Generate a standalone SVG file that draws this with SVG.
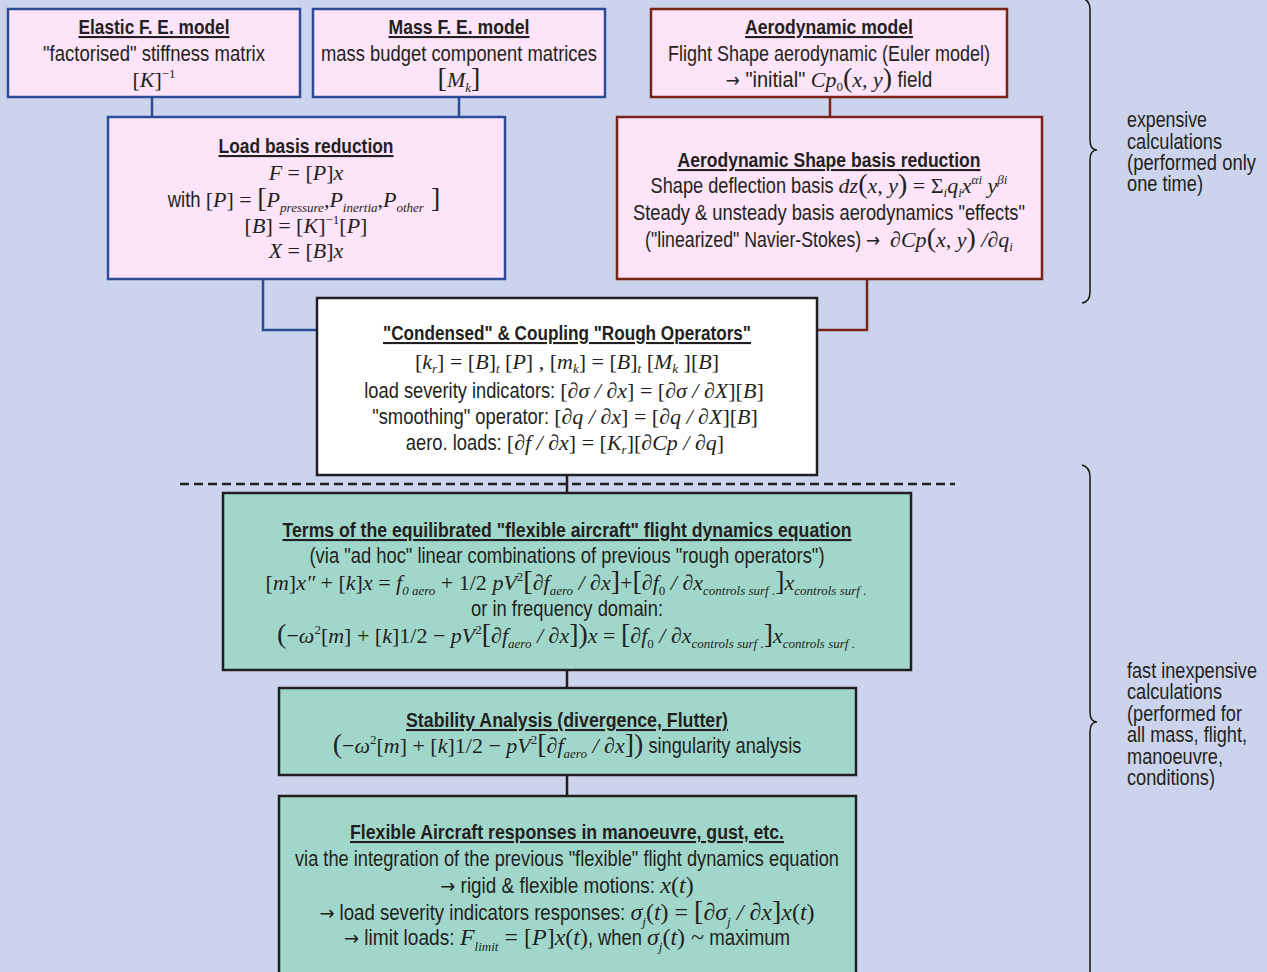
<svg xmlns="http://www.w3.org/2000/svg" width="1267" height="972" viewBox="0 0 1267 972">
<style>
.bg{fill:#cbd4ec}
.pb{fill:#fde4f8;stroke:#2c4b99;stroke-width:2.5}
.pr{fill:#fde4f8;stroke:#7a2317;stroke-width:2.5}
.wb{fill:#ffffff;stroke:#231f20;stroke-width:2.5}
.tb{fill:#a1d7ca;stroke:#231f20;stroke-width:2.5}
text{font-family:"Liberation Sans Narrow","Arial Narrow","Liberation Sans",sans-serif;font-size:22px;fill:#231f20;text-anchor:middle}
.t{font-weight:bold;font-size:21px;text-decoration:underline}
.m{font-family:"Liberation Serif","Times New Roman",serif;font-size:22px;font-style:normal}
.mi{font-family:"Liberation Serif","Times New Roman",serif;font-size:22px;font-style:italic}
.lg{font-size:24px}
.sb{font-size:13px}
.br{font-size:28px}
.ar{font-family:"DejaVu Sans",sans-serif;font-size:20px}
.side{text-anchor:start}
.cb{fill:none;stroke:#2c4b99;stroke-width:2.5}
.cr{fill:none;stroke:#7a2317;stroke-width:2.5}
.ck{fill:none;stroke:#231f20;stroke-width:2.5}
.dash{stroke-dasharray:9 5}
.brace{fill:none;stroke:#231f20;stroke-width:1.6}
</style>
<rect class="bg" x="0" y="0" width="1267" height="972"/>

<g id="connectors">
<path class="cb" d="M152,97V117"/>
<path class="cb" d="M459,97V117"/>
<path class="cr" d="M830,97V117"/>
<path class="cb" d="M263,279V330H317"/>
<path class="cr" d="M867,279V330H817"/>
<path class="ck" d="M567,475V493"/>
<path class="ck" d="M567,670V688"/>
<path class="ck" d="M567,775V796"/>
<path class="ck dash" d="M180,484H955"/>
</g>

<g id="elastic">
<rect class="pb" x="8" y="9" width="292" height="88"/>
<text class="t" x="154" y="34" textLength="151" lengthAdjust="spacingAndGlyphs">Elastic F. E. model</text>
<text x="154" y="61" textLength="222" lengthAdjust="spacingAndGlyphs">"factorised" stiffness matrix</text>
<text x="154" y="87"><tspan class="m">[</tspan><tspan class="mi">K</tspan><tspan class="m">]</tspan><tspan class="m sb" dy="-9">−1</tspan></text>
</g>

<g id="mass">
<rect class="pb" x="313" y="9" width="292" height="88"/>
<text class="t" x="459" y="34" textLength="141" lengthAdjust="spacingAndGlyphs">Mass F. E. model</text>
<text x="459" y="61" textLength="276" lengthAdjust="spacingAndGlyphs">mass budget component matrices</text>
<text x="459" y="87"><tspan class="m br">[</tspan><tspan class="mi">M</tspan><tspan class="mi sb" dy="5">k</tspan><tspan class="m br" dy="-5">]</tspan></text>
</g>

<g id="aero-model">
<rect class="pr" x="651" y="9" width="356" height="88"/>
<text class="t" x="829" y="34" textLength="168" lengthAdjust="spacingAndGlyphs">Aerodynamic model</text>
<text x="829" y="61" textLength="322" lengthAdjust="spacingAndGlyphs">Flight Shape aerodynamic (Euler model)</text>
<text x="829" y="87"><tspan class="ar" textLength="14" lengthAdjust="spacingAndGlyphs">→</tspan><tspan textLength="71" lengthAdjust="spacingAndGlyphs"> "initial" </tspan><tspan class="mi">Cp</tspan><tspan class="m sb" dy="4">0</tspan><tspan class="m br" dy="-4">(</tspan><tspan class="mi">x, y</tspan><tspan class="m br">)</tspan><tspan textLength="40" lengthAdjust="spacingAndGlyphs"> field</tspan></text>
</g>

<g id="load-basis">
<rect class="pb" x="108" y="117" width="397" height="162"/>
<text class="t" x="306" y="153" textLength="175" lengthAdjust="spacingAndGlyphs">Load basis reduction</text>
<text x="306" y="180"><tspan class="mi">F</tspan><tspan class="m"> = [</tspan><tspan class="mi">P</tspan><tspan class="m">]</tspan><tspan class="mi">x</tspan></text>
<text x="304" y="207"><tspan textLength="38" lengthAdjust="spacingAndGlyphs">with </tspan><tspan class="m">[</tspan><tspan class="mi">P</tspan><tspan class="m">] = </tspan><tspan class="m br">[</tspan><tspan class="mi">P</tspan><tspan class="mi sb" dy="5">pressure</tspan><tspan class="m" dy="-5">,</tspan><tspan class="mi">P</tspan><tspan class="mi sb" dy="5">inertia</tspan><tspan class="m" dy="-5">,</tspan><tspan class="mi">P</tspan><tspan class="mi sb" dy="5">other</tspan><tspan class="m br" dy="-5"> ]</tspan></text>
<text x="306" y="233"><tspan class="m">[</tspan><tspan class="mi">B</tspan><tspan class="m">] = [</tspan><tspan class="mi">K</tspan><tspan class="m">]</tspan><tspan class="m sb" dy="-9">−1</tspan><tspan class="m" dy="9">[</tspan><tspan class="mi">P</tspan><tspan class="m">]</tspan></text>
<text x="306" y="258"><tspan class="mi">X</tspan><tspan class="m"> = [</tspan><tspan class="mi">B</tspan><tspan class="m">]</tspan><tspan class="mi">x</tspan></text>
</g>

<g id="aero-shape">
<rect class="pr" x="617" y="117" width="425" height="162"/>
<text class="t" x="829" y="167" textLength="303" lengthAdjust="spacingAndGlyphs">Aerodynamic Shape basis reduction</text>
<text x="829" y="193"><tspan textLength="188" lengthAdjust="spacingAndGlyphs">Shape deflection basis </tspan><tspan class="mi">dz</tspan><tspan class="m br">(</tspan><tspan class="mi">x, y</tspan><tspan class="m br">)</tspan><tspan class="m"> = Σ</tspan><tspan class="mi sb" dy="4">i</tspan><tspan class="mi" dy="-4">q</tspan><tspan class="mi sb" dy="4">i</tspan><tspan class="mi" dy="-4">x</tspan><tspan class="mi sb" dy="-9">αi</tspan><tspan class="mi" dy="9"> y</tspan><tspan class="mi sb" dy="-9">βi</tspan></text>
<text x="829" y="220" textLength="392" lengthAdjust="spacingAndGlyphs">Steady &amp; unsteady basis aerodynamics "effects"</text>
<text x="829" y="247"><tspan textLength="221" lengthAdjust="spacingAndGlyphs">("linearized" Navier-Stokes) </tspan><tspan class="ar" textLength="14" lengthAdjust="spacingAndGlyphs">→</tspan><tspan class="mi" dx="10">∂Cp</tspan><tspan class="m br">(</tspan><tspan class="mi">x, y</tspan><tspan class="m br">)</tspan><tspan class="mi"> /∂q</tspan><tspan class="mi sb" dy="4">i</tspan></text>
</g>

<g id="condensed">
<rect class="wb" x="317" y="298" width="500" height="177"/>
<text class="t" x="567" y="340" textLength="368" lengthAdjust="spacingAndGlyphs">"Condensed" &amp; Coupling "Rough Operators"</text>
<text x="567" y="369"><tspan class="m">[</tspan><tspan class="mi">k</tspan><tspan class="mi sb" dy="4">r</tspan><tspan class="m" dy="-4">] = [</tspan><tspan class="mi">B</tspan><tspan class="m">]</tspan><tspan class="mi sb" dy="4">t</tspan><tspan class="m" dy="-4"> [</tspan><tspan class="mi">P</tspan><tspan class="m">] ,  [</tspan><tspan class="mi">m</tspan><tspan class="mi sb" dy="4">k</tspan><tspan class="m" dy="-4">] = [</tspan><tspan class="mi">B</tspan><tspan class="m">]</tspan><tspan class="mi sb" dy="4">t</tspan><tspan class="m" dy="-4"> [</tspan><tspan class="mi">M</tspan><tspan class="mi sb" dy="4">k</tspan><tspan class="m" dy="-4"> ][</tspan><tspan class="mi">B</tspan><tspan class="m">]</tspan></text>
<text x="564" y="398"><tspan textLength="196" lengthAdjust="spacingAndGlyphs">load severity indicators: </tspan><tspan class="m">[</tspan><tspan class="mi">∂σ / ∂x</tspan><tspan class="m">] = [</tspan><tspan class="mi">∂σ / ∂X</tspan><tspan class="m">][</tspan><tspan class="mi">B</tspan><tspan class="m">]</tspan></text>
<text x="565" y="424"><tspan textLength="182" lengthAdjust="spacingAndGlyphs">"smoothing" operator: </tspan><tspan class="m">[</tspan><tspan class="mi">∂q / ∂x</tspan><tspan class="m">] = [</tspan><tspan class="mi">∂q / ∂X</tspan><tspan class="m">][</tspan><tspan class="mi">B</tspan><tspan class="m">]</tspan></text>
<text x="565" y="450"><tspan textLength="101" lengthAdjust="spacingAndGlyphs">aero. loads: </tspan><tspan class="m">[</tspan><tspan class="mi">∂f / ∂x</tspan><tspan class="m">] = [</tspan><tspan class="mi">K</tspan><tspan class="mi sb" dy="4">r</tspan><tspan class="m" dy="-4">][</tspan><tspan class="mi">∂Cp / ∂q</tspan><tspan class="m">]</tspan></text>
</g>

<g id="terms">
<rect class="tb" x="223" y="493" width="688" height="177"/>
<text class="t" x="567" y="537" textLength="569" lengthAdjust="spacingAndGlyphs">Terms of the equilibrated "flexible aircraft" flight dynamics equation</text>
<text x="567" y="563" textLength="515" lengthAdjust="spacingAndGlyphs">(via "ad hoc" linear combinations of previous "rough operators")</text>
<text x="566" y="590"><tspan class="m">[</tspan><tspan class="mi">m</tspan><tspan class="m">]</tspan><tspan class="mi">x″</tspan><tspan class="m"> + [</tspan><tspan class="mi">k</tspan><tspan class="m">]</tspan><tspan class="mi">x</tspan><tspan class="m"> = </tspan><tspan class="mi">f</tspan><tspan class="mi sb" dy="5">0 aero</tspan><tspan class="m" dy="-5"> + 1/2 </tspan><tspan class="mi">pV</tspan><tspan class="m sb" dy="-9">2</tspan><tspan class="m br" dy="9">[</tspan><tspan class="mi">∂f</tspan><tspan class="mi sb" dy="5">aero</tspan><tspan class="mi" dy="-5"> / ∂x</tspan><tspan class="m br">]</tspan><tspan class="m">+</tspan><tspan class="m br">[</tspan><tspan class="mi">∂f</tspan><tspan class="m sb" dy="5">0</tspan><tspan class="mi" dy="-5"> / ∂x</tspan><tspan class="mi sb" dy="5">controls surf .</tspan><tspan class="m br" dy="-5">]</tspan><tspan class="mi">x</tspan><tspan class="mi sb" dy="5">controls surf .</tspan></text>
<text x="567" y="616" textLength="192" lengthAdjust="spacingAndGlyphs">or in frequency domain:</text>
<text x="566" y="643"><tspan class="m br">(</tspan><tspan class="m">−</tspan><tspan class="mi">ω</tspan><tspan class="m sb" dy="-9">2</tspan><tspan class="m" dy="9">[</tspan><tspan class="mi">m</tspan><tspan class="m">] + [</tspan><tspan class="mi">k</tspan><tspan class="m">]1/2 − </tspan><tspan class="mi">pV</tspan><tspan class="m sb" dy="-9">2</tspan><tspan class="m br" dy="9">[</tspan><tspan class="mi">∂f</tspan><tspan class="mi sb" dy="5">aero</tspan><tspan class="mi" dy="-5"> / ∂x</tspan><tspan class="m br">])</tspan><tspan class="mi">x</tspan><tspan class="m"> = </tspan><tspan class="m br">[</tspan><tspan class="mi">∂f</tspan><tspan class="m sb" dy="5">0</tspan><tspan class="mi" dy="-5"> / ∂x</tspan><tspan class="mi sb" dy="5">controls surf .</tspan><tspan class="m br" dy="-5">]</tspan><tspan class="mi">x</tspan><tspan class="mi sb" dy="5">controls surf .</tspan></text>
</g>

<g id="stability">
<rect class="tb" x="279" y="688" width="577" height="87"/>
<text class="t" x="567" y="727" textLength="322" lengthAdjust="spacingAndGlyphs">Stability Analysis (divergence, Flutter)</text>
<text x="567" y="753"><tspan class="m br">(</tspan><tspan class="m">−</tspan><tspan class="mi">ω</tspan><tspan class="m sb" dy="-9">2</tspan><tspan class="m" dy="9">[</tspan><tspan class="mi">m</tspan><tspan class="m">] + [</tspan><tspan class="mi">k</tspan><tspan class="m">]1/2 − </tspan><tspan class="mi">pV</tspan><tspan class="m sb" dy="-9">2</tspan><tspan class="m br" dy="9">[</tspan><tspan class="mi">∂f</tspan><tspan class="mi sb" dy="5">aero</tspan><tspan class="mi" dy="-5"> / ∂x</tspan><tspan class="m br">])</tspan><tspan textLength="158" lengthAdjust="spacingAndGlyphs"> singularity analysis</tspan></text>
</g>

<g id="flexible">
<rect class="tb" x="279" y="796" width="577" height="190"/>
<text class="t" x="567" y="839" textLength="434" lengthAdjust="spacingAndGlyphs">Flexible Aircraft responses in manoeuvre, gust, etc.</text>
<text x="567" y="866" textLength="544" lengthAdjust="spacingAndGlyphs">via the integration of the previous "flexible" flight dynamics equation</text>
<text x="567" y="893"><tspan class="ar" textLength="15" lengthAdjust="spacingAndGlyphs">→</tspan><tspan textLength="205" lengthAdjust="spacingAndGlyphs"> rigid &amp; flexible motions: </tspan><tspan class="mi lg">x</tspan><tspan class="m lg">(</tspan><tspan class="mi lg">t</tspan><tspan class="m lg">)</tspan></text>
<text x="567" y="920"><tspan class="ar" textLength="15" lengthAdjust="spacingAndGlyphs">→</tspan><tspan textLength="296" lengthAdjust="spacingAndGlyphs"> load severity indicators responses: </tspan><tspan class="mi lg">σ</tspan><tspan class="mi sb" dy="6">j</tspan><tspan class="m lg" dy="-6">(</tspan><tspan class="mi lg">t</tspan><tspan class="m lg">) = </tspan><tspan class="m br">[</tspan><tspan class="mi lg">∂σ</tspan><tspan class="mi sb" dy="6">j</tspan><tspan class="mi lg" dy="-6"> / ∂x</tspan><tspan class="m br">]</tspan><tspan class="mi lg">x</tspan><tspan class="m lg">(</tspan><tspan class="mi lg">t</tspan><tspan class="m lg">)</tspan></text>
<text x="567" y="945"><tspan class="ar" textLength="15" lengthAdjust="spacingAndGlyphs">→</tspan><tspan textLength="101" lengthAdjust="spacingAndGlyphs"> limit loads: </tspan><tspan class="mi lg">F</tspan><tspan class="mi sb" dy="6">limit</tspan><tspan class="m lg" dy="-6"> = [</tspan><tspan class="mi lg">P</tspan><tspan class="m lg">]</tspan><tspan class="mi lg">x</tspan><tspan class="m lg">(</tspan><tspan class="mi lg">t</tspan><tspan class="m lg">)</tspan><tspan textLength="59" lengthAdjust="spacingAndGlyphs">, when </tspan><tspan class="mi lg">σ</tspan><tspan class="mi sb" dy="6">j</tspan><tspan class="m lg" dy="-6">(</tspan><tspan class="mi lg">t</tspan><tspan class="m lg">) ~</tspan><tspan textLength="86" lengthAdjust="spacingAndGlyphs"> maximum</tspan></text>
</g>

<g id="brace-expensive">
<path class="brace" d="M1082,-2 Q1090,0 1090,10 L1090,140 Q1090,150 1097,150 Q1090,150 1090,160 L1090,292 Q1090,302 1082,303"/>
<text class="side" x="1127" y="127" textLength="80" lengthAdjust="spacingAndGlyphs">expensive</text>
<text class="side" x="1127" y="149" textLength="95" lengthAdjust="spacingAndGlyphs">calculations</text>
<text class="side" x="1127" y="170" textLength="129" lengthAdjust="spacingAndGlyphs">(performed only</text>
<text class="side" x="1127" y="191" textLength="76" lengthAdjust="spacingAndGlyphs">one time)</text>
</g>

<g id="brace-fast">
<path class="brace" d="M1082,465 Q1090,467 1090,477 L1090,712 Q1090,722 1097,722 Q1090,722 1090,732 L1090,975"/>
<text class="side" x="1127" y="678" textLength="130" lengthAdjust="spacingAndGlyphs">fast inexpensive</text>
<text class="side" x="1127" y="699" textLength="95" lengthAdjust="spacingAndGlyphs">calculations</text>
<text class="side" x="1127" y="721" textLength="115" lengthAdjust="spacingAndGlyphs">(performed for</text>
<text class="side" x="1127" y="742" textLength="120" lengthAdjust="spacingAndGlyphs">all mass, flight,</text>
<text class="side" x="1127" y="764" textLength="96" lengthAdjust="spacingAndGlyphs">manoeuvre,</text>
<text class="side" x="1127" y="785" textLength="88" lengthAdjust="spacingAndGlyphs">conditions)</text>
</g>
</svg>
